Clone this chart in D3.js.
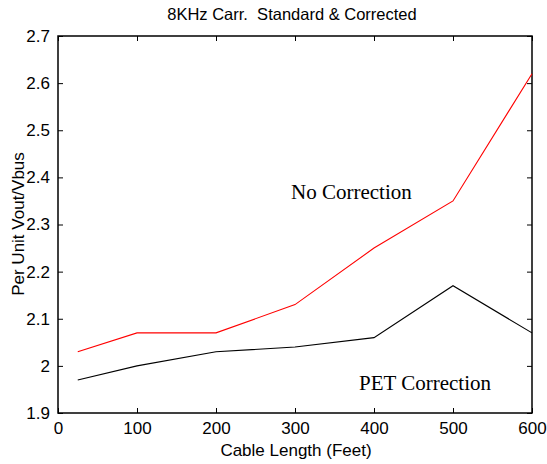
<!DOCTYPE html>
<html>
<head>
<meta charset="utf-8">
<script src="https://cdn.jsdelivr.net/npm/d3@7"></script>
<style>
  html, body { margin: 0; padding: 0; background: #fff; }
  svg { display: block; }
  text { fill: #000; white-space: pre; }
</style>
</head>
<body>
<svg id="chart" width="547" height="464"></svg>
<script>
// Cable length (feet) at each measurement
const cableLength = [25, 100, 200, 300, 400, 500, 600];
// Per-unit Vout/Vbus without correction
const noCorrection = [2.03, 2.07, 2.07, 2.13, 2.25, 2.35, 2.62];
// Per-unit Vout/Vbus with PET correction
const petCorrection = [1.97, 2.00, 2.03, 2.04, 2.06, 2.17, 2.07];
const xTicks = [0, 100, 200, 300, 400, 500, 600];
const yTicks = [1.9, 2.0, 2.1, 2.2, 2.3, 2.4, 2.5, 2.6, 2.7];

const svg = d3.select("#chart");
const m = { left: 58, right: 532, top: 36, bottom: 413 };

const x = d3.scaleLinear().domain([0, 600]).range([m.left, m.right]);
const y = d3.scaleLinear().domain([1.9, 2.7]).range([m.bottom, m.top]);

const sans = "'Liberation Sans', Arial, sans-serif";
const serif = "'Liberation Serif', 'Times New Roman', serif";
const tickLen = 5;
const fs = 17;

// Axes with inward ticks on all four sides
const fmtY = d => (d === 2 ? "2" : d3.format(".1f")(d));
const axB = d3.axisBottom(x).tickValues(xTicks).tickSizeInner(-tickLen).tickSizeOuter(0).tickPadding(9);
const axT = d3.axisTop(x).tickValues(xTicks).tickSizeInner(-tickLen).tickSizeOuter(0).tickFormat("");
const axL = d3.axisLeft(y).tickValues(yTicks).tickSizeInner(-tickLen).tickSizeOuter(0).tickPadding(8).tickFormat(fmtY);
const axR = d3.axisRight(y).tickValues(yTicks).tickSizeInner(-tickLen).tickSizeOuter(0).tickFormat("");

function style(g) {
  g.select(".domain").remove();
  g.selectAll("line").attr("stroke", "#000").attr("stroke-width", 1);
  g.selectAll("text").attr("font-family", sans).attr("font-size", fs).attr("fill", "#000");
}

svg.append("g").attr("transform", `translate(0,${m.bottom})`).call(axB).call(style);
svg.append("g").attr("transform", `translate(0,${m.top})`).call(axT).call(style);
svg.append("g").attr("transform", `translate(${m.left},0)`).call(axL).call(style);
svg.append("g").attr("transform", `translate(${m.right},0)`).call(axR).call(style);

// Plot frame
svg.append("rect")
  .attr("x", m.left).attr("y", m.top)
  .attr("width", m.right - m.left).attr("height", m.bottom - m.top)
  .attr("fill", "none").attr("stroke", "#000").attr("stroke-width", 1.5);

const line = d3.line().x(d => x(d[0])).y(d => y(d[1]));

svg.append("path")
  .datum(d3.zip(cableLength, noCorrection))
  .attr("d", line).attr("fill", "none").attr("stroke", "#ff0000").attr("stroke-width", 1.1);

svg.append("path")
  .datum(d3.zip(cableLength, petCorrection))
  .attr("d", line).attr("fill", "none").attr("stroke", "#000").attr("stroke-width", 1.1);

// Curve labels
svg.append("text").attr("x", 291).attr("y", 199)
  .attr("font-family", serif).attr("font-size", 21).text("No Correction");
svg.append("text").attr("x", 359).attr("y", 390)
  .attr("font-family", serif).attr("font-size", 21).text("PET Correction");

// Title and axis titles
svg.append("text").attr("x", 292).attr("y", 20).attr("text-anchor", "middle")
  .attr("font-family", sans).attr("font-size", 16.5).text("8KHz Carr.  Standard & Corrected");
svg.append("text").attr("x", 296).attr("y", 456).attr("text-anchor", "middle")
  .attr("font-family", sans).attr("font-size", fs).text("Cable Length (Feet)");
svg.append("text").attr("transform", "translate(24,224) rotate(-90)").attr("text-anchor", "middle")
  .attr("font-family", sans).attr("font-size", fs).text("Per Unit Vout/Vbus");
</script>
</body>
</html>
